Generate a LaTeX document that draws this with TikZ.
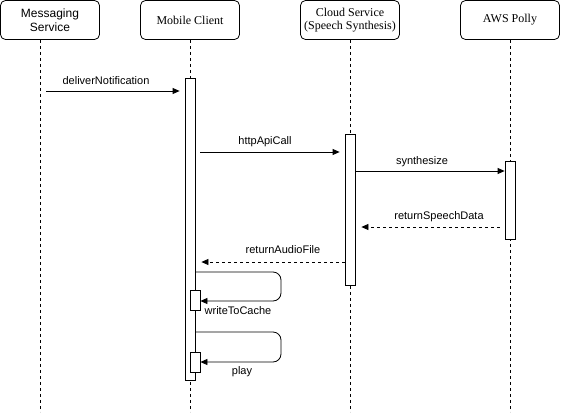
\documentclass[tikz,border=0pt]{standalone}
\usepackage{fontspec}
\setmainfont{Liberation Serif}
\setsansfont{Liberation Sans}
\usetikzlibrary{arrows.meta,positioning}
\tikzset{head/.style={draw, rounded corners=5pt, minimum width=99pt, minimum height=39pt,
                      align=center, line width=0.8pt, font=\fontsize{12}{13.5}\selectfont},
         life/.style={line width=0.8pt, dash pattern=on 3pt off 3pt},
         act/.style={draw, fill=white, line width=0.8pt, minimum width=10pt, inner sep=0pt},
         msg/.style={-{Triangle[length=7pt,width=6pt]}, line width=0.8pt},
         ret/.style={msg, dash pattern=on 3pt off 3pt},
         lbl/.style={font=\sffamily\fontsize{11}{12}\selectfont, inner sep=1pt}
}

\begin{document}
\begin{tikzpicture}[x=1pt, y=-1pt]
    \useasboundingbox (0,0) rectangle (561,412);

    % participants
    \node[head, font=\sffamily\fontsize{12}{13.5}\selectfont] (MS) at (50,20)  {Messaging\\Service};
    \node[head] (MC) at (190,20)  {Mobile Client};
    \node[head] (CS) at (350,20)  {Cloud Service\\(Speech Synthesis)};
    \node[head] (AP) at (510,20)  {AWS Polly};

    % lifelines
    \draw[life] ([xshift=-10pt]MS.south) -- ++(0,372);
    \draw[life] (MC.south) -- ++(0,372);
    \draw[life] (CS.south) -- ++(0,372);
    \draw[life] (AP.south) -- ++(0,372);

    % activations
    \node[act, minimum height=302pt] (mcAct)    at (190,229) {};
    \node[act, minimum height=151pt] (csAct)    at (350,209.5) {};
    \node[act, minimum height=78pt]  (apAct)    at (510,200) {};
    \node[act, minimum height=20pt]  (cacheAct) at (195,300) {};
    \node[act, minimum height=20pt]  (playAct)  at (195,362) {};

    \coordinate (dnStart) at (46,91);

    % messages
    \draw[msg] (dnStart) -- ([xshift=-5pt]dnStart -| mcAct.west);
    \node[lbl] (dnLbl) at (106,81) {deliverNotification};

    \draw[msg] ([xshift=5pt]mcAct.east |- 0,152) -- ([xshift=-5pt]csAct.west |- 0,152);
    \node[lbl] (httpLbl) at (265,142) {httpApiCall};

    \draw[msg] (csAct.east |- 0,171) -- (apAct.west |- 0,171);
    \node[lbl] (synLbl) at (422,162) {synthesize};

    \draw[ret] ([xshift=-5pt]apAct.west |- 0,227) -- ([xshift=6pt]csAct.east |- 0,227);
    \node[lbl] (rsdLbl) at (439,217) {returnSpeechData};

    \draw[ret] (csAct.west |- 0,262) -- ([xshift=6pt]mcAct.east |- 0,262);
    \node[lbl] (rafLbl) at (283,250) {returnAudioFile};

    % self calls
    \draw[msg, rounded corners=8pt] (mcAct.east |- 0,272) -- (281,272) -- (281,301) -- (cacheAct.east |- 0,301);
    \node[lbl] (cacheLbl) at (238,311) {writeToCache};

    \draw[msg, rounded corners=8pt] (mcAct.east |- 0,332) -- (281,332) -- (281,362) -- (playAct.east |- 0,362);
    \node[lbl] (playLbl) at (242,372) {play};
\end{tikzpicture}
\end{document}
